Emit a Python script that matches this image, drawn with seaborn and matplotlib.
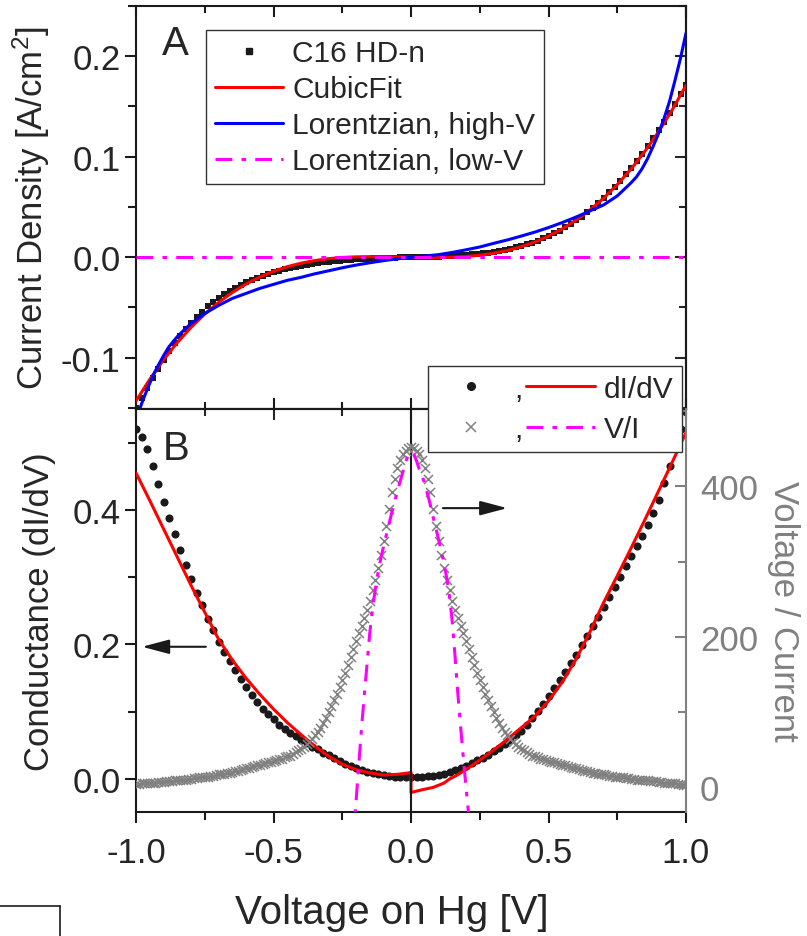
import numpy as np
import matplotlib
matplotlib.use("Agg")
import matplotlib.pyplot as plt
import seaborn as sns
from matplotlib.lines import Line2D
from matplotlib.ticker import MultipleLocator

# ---------------- data ----------------
# Panel A: current density of C16 HD-n (V grid: -1 ... 1, step 0.02)
V_data = np.round(np.linspace(-1.0, 1.0, 101), 2)
J_data = [-0.150, -0.140, -0.130, -0.120, -0.111, -0.102, -0.093, -0.085, -0.078, -0.071,
          -0.065, -0.059, -0.054, -0.049, -0.045, -0.041, -0.037, -0.034, -0.031, -0.028,
          -0.025, -0.023, -0.021, -0.019, -0.017, -0.015, -0.0135, -0.012, -0.011, -0.0095,
          -0.0085, -0.0075, -0.0066, -0.0058, -0.0051, -0.0045, -0.0039, -0.0034, -0.0029, -0.0025,
          -0.0021, -0.0017, -0.0014, -0.0011, -0.0009, -0.0007, -0.0005, -0.0004, -0.0002, -0.0001,
          0.0000,
          0.0001, 0.0002, 0.0003, 0.0005, 0.0007, 0.0010, 0.0013, 0.0016, 0.0020, 0.0024,
          0.0029, 0.0034, 0.0040, 0.0047, 0.0055, 0.0064, 0.0074, 0.0085, 0.0098, 0.0112,
          0.0128, 0.0146, 0.0166, 0.0188, 0.0212, 0.0238, 0.0266, 0.0297, 0.0330, 0.0366,
          0.0405, 0.0447, 0.0492, 0.0540, 0.0591, 0.0645, 0.0702, 0.0762, 0.0825, 0.0891,
          0.0960, 0.1032, 0.1107, 0.1185, 0.1266, 0.1350, 0.1437, 0.1527, 0.1620, 0.1716]

# Cubic fit (V step 0.05)
V_fit = np.round(np.linspace(-1.0, 1.0, 41), 2)
J_cubic = [-0.1430, -0.1215, -0.1021, -0.0850, -0.0698, -0.0565, -0.0450, -0.0351, -0.0267, -0.0197,
           -0.0140, -0.0094, -0.0059, -0.0033, -0.0014, -0.0002, 0.0004, 0.0006, 0.0006, 0.0003,
           0.0000,
           -0.0002, -0.0003, 0.0000, 0.0007, 0.0020, 0.0039, 0.0067, 0.0104, 0.0151, 0.0210,
           0.0282, 0.0368, 0.0469, 0.0587, 0.0722, 0.0877, 0.1052, 0.1248, 0.1467, 0.1710]

# Lorentzian, high-V
V_lor_hi = [-1.00, -0.98, -0.96, -0.94, -0.92, -0.90, -0.88, -0.85, -0.82, -0.80,
            -0.75, -0.70, -0.65, -0.60, -0.55, -0.50, -0.45, -0.40, -0.35, -0.30,
            -0.25, -0.20, -0.15, -0.10, -0.05, 0.00, 0.05, 0.10, 0.15, 0.20,
            0.25, 0.30, 0.35, 0.40, 0.45, 0.50, 0.55, 0.60, 0.65, 0.70,
            0.75, 0.80, 0.82, 0.84, 0.86, 0.88, 0.90, 0.92, 0.94, 0.96, 0.98, 1.00]
J_lor_hi = [-0.162, -0.146, -0.132, -0.119, -0.108, -0.098, -0.089, -0.079, -0.071, -0.066,
            -0.056, -0.048, -0.041, -0.036, -0.031, -0.027, -0.023, -0.020, -0.0165, -0.0135,
            -0.0105, -0.0078, -0.0055, -0.0034, -0.0016, 0.0, 0.0012, 0.0026, 0.0048, 0.0074,
            0.0102, 0.0138, 0.0172, 0.0210, 0.0250, 0.0295, 0.0345, 0.0400, 0.0460, 0.0520,
            0.0610, 0.0740, 0.0800, 0.0880, 0.0980, 0.1100, 0.1230, 0.1380, 0.1550, 0.1760, 0.1980, 0.2230]

# Lorentzian, low-V (flat at this scale)
V_lor_lo = [-1.0, -0.5, 0.0, 0.5, 1.0]
J_lor_lo = [0.0, 0.0, 0.0, 0.0, 0.0]

# Panel B: conductance dI/dV points (same V grid as V_data)
G_data = [0.520, 0.509, 0.490, 0.465, 0.439, 0.412, 0.388, 0.364, 0.340, 0.318,
          0.297, 0.277, 0.258, 0.238, 0.221, 0.204, 0.189, 0.175, 0.162, 0.149,
          0.137, 0.125, 0.114, 0.104, 0.096, 0.089, 0.081, 0.075, 0.069, 0.064,
          0.058, 0.053, 0.048, 0.044, 0.039, 0.035, 0.031, 0.027, 0.023, 0.019,
          0.016, 0.013, 0.011, 0.009, 0.007, 0.0055, 0.0045, 0.0035, 0.003, 0.003,
          0.003,
          0.003, 0.0035, 0.004, 0.005, 0.0065, 0.008, 0.010, 0.013, 0.016, 0.020,
          0.024, 0.028, 0.032, 0.036, 0.041, 0.046, 0.052, 0.058, 0.065, 0.072,
          0.080, 0.091, 0.101, 0.112, 0.123, 0.135, 0.147, 0.159, 0.172, 0.185,
          0.199, 0.213, 0.227, 0.241, 0.256, 0.271, 0.286, 0.301, 0.316, 0.331,
          0.346, 0.361, 0.377, 0.395, 0.414, 0.440, 0.466, 0.494, 0.520, 0.545]

# dI/dV of the fit (two branches, jump at V = 0)
V_dIdV = [-1.00, -0.95, -0.90, -0.85, -0.80, -0.75, -0.70, -0.65, -0.60, -0.55,
          -0.50, -0.45, -0.40, -0.35, -0.30, -0.25, -0.20, -0.15, -0.10, -0.05,
          -0.01, 0.00, 0.00, 0.04, 0.08, 0.12, 0.14, 0.16, 0.20, 0.25,
          0.30, 0.35, 0.40, 0.45, 0.50, 0.55, 0.60, 0.65, 0.70, 0.75,
          0.80, 0.85, 0.90, 0.95, 1.00]
G_dIdV = [0.455, 0.414, 0.372, 0.330, 0.288, 0.248, 0.208, 0.177, 0.150, 0.126,
          0.104, 0.084, 0.066, 0.049, 0.034, 0.022, 0.014, 0.009, 0.006, 0.007,
          0.009, 0.010, -0.020, -0.016, -0.0125, -0.006, 0.000, 0.004, 0.014, 0.028,
          0.043, 0.059, 0.076, 0.093, 0.116, 0.144, 0.178, 0.218, 0.262, 0.302,
          0.343, 0.385, 0.428, 0.471, 0.515]

# Voltage / Current points (V grid: -1 ... 1, step 0.01)
V_vi = np.round(np.linspace(-1.0, 1.0, 201), 2)
R_vi = [4, 4, 5, 5, 5, 6, 6, 6, 7, 7,
        7, 8, 8, 8, 9, 9, 9, 10, 10, 11,
        11, 12, 12, 13, 13, 14, 14, 15, 15, 16,
        17, 17, 18, 19, 19, 20, 21, 22, 23, 24,
        25, 26, 27, 28, 29, 30, 31, 32, 33, 34,
        35, 36, 37, 38, 40, 41, 42, 44, 47, 49,
        51, 54, 57, 60, 64, 69, 74, 79, 85, 92,
        100, 108, 116, 124, 133, 142, 152, 163, 173, 184,
        195, 205, 215, 225, 236, 248, 262, 276, 292, 309,
        327, 347, 370, 392, 410, 424, 435, 443, 447, 451,
        452,
        451, 447, 443, 435, 424, 410, 392, 370, 347, 327,
        309, 292, 276, 262, 248, 236, 225, 215, 205, 195,
        184, 173, 163, 152, 142, 133, 124, 116, 108, 100,
        92, 85, 79, 74, 69, 64, 60, 57, 54, 51,
        49, 47, 44, 42, 41, 40, 38, 37, 36, 35,
        34, 33, 32, 31, 30, 29, 28, 27, 26, 25,
        24, 23, 22, 21, 20, 19, 19, 18, 17, 17,
        16, 15, 15, 14, 14, 13, 13, 12, 12, 11,
        11, 10, 10, 9, 9, 9, 8, 8, 8, 7,
        7, 6, 6, 5, 5, 5, 4, 4, 3, 3]

# V/I of the low-V fit
V_vi_fit = np.round(np.linspace(-0.21, 0.21, 43), 2)
R_vi_fit = [-70, -20, 30, 78, 122, 163, 205, 237, 263, 285,
            304, 320, 335, 350, 365, 379, 393, 406, 419, 432, 442,
            446,
            443, 434, 423, 414, 404, 390, 376, 360, 345, 330,
            314, 298, 278, 254, 220, 175, 126, 82, 40, 0, -38]

x_ticks = [-1.0, -0.5, 0.0, 0.5, 1.0]
x_ticklabels = ["-1.0", "-0.5", "0.0", "0.5", "1.0"]

# ---------------- style ----------------
sns.set_theme(style="ticks")
plt.rcParams["font.family"] = ["Liberation Sans", "DejaVu Sans"]
plt.rcParams["mathtext.fontset"] = "custom"
plt.rcParams["mathtext.rm"] = "Liberation Sans"
plt.rcParams["mathtext.default"] = "regular"
plt.rcParams["axes.linewidth"] = 1.5

RED, BLUE, MAG, GREY = "#ff0000", "#0000ff", "#ff00ff", "#808080"
DASHDOT = (0, (5.5, 3, 1.5, 3))
TFS = 25

W, H = 807, 937
def rect(l, t, r, b):
    return [l / W, 1 - b / H, (r - l) / W, (b - t) / H]

fig = plt.figure(figsize=(W / 100, H / 100), dpi=100)
axA = fig.add_axes(rect(136, 7, 686, 410))
axB = fig.add_axes(rect(136, 410, 686, 813))
axR = axB.twinx()
axA.set_zorder(1)
axB.set_zorder(2)
axR.set_zorder(3)

# ---------------- panel A ----------------
sns.scatterplot(x=V_data, y=J_data, ax=axA, marker="s", s=20, color="k",
                linewidth=0, legend=False, zorder=2)
sns.lineplot(x=V_fit, y=J_cubic, ax=axA, color=RED, linewidth=2.2,
             estimator=None, sort=False, legend=False, zorder=3)
sns.lineplot(x=V_lor_hi, y=J_lor_hi, ax=axA, color=BLUE, linewidth=2.2,
             estimator=None, sort=False, legend=False, zorder=4)
sns.lineplot(x=V_lor_lo, y=J_lor_lo, ax=axA, color=MAG, linewidth=2.2,
             estimator=None, sort=False, legend=False, zorder=4)
axA.lines[-1].set_linestyle(DASHDOT)

axA.set_xlim(-1, 1)
axA.set_ylim(-0.151, 0.25)
axA.xaxis.set_major_locator(MultipleLocator(0.5))
axA.xaxis.set_minor_locator(MultipleLocator(0.25))
axA.yaxis.set_major_locator(MultipleLocator(0.1))
axA.yaxis.set_minor_locator(MultipleLocator(0.05))
axA.tick_params(axis="x", which="both", direction="in", top=True, bottom=True,
                labelbottom=False, width=1.5, color="k")
axA.tick_params(axis="x", which="major", length=8)
axA.tick_params(axis="x", which="minor", length=5)
axA.tick_params(axis="y", which="both", direction="out", left=True, right=False,
                labelsize=TFS, width=1.5, pad=3, color="k")
axA.tick_params(axis="y", which="major", length=8)
axA.tick_params(axis="y", which="minor", length=6)
axA.set_yticks([-0.1, 0.0, 0.1, 0.2])
axA.set_yticklabels(["-0.1", "0.0", "0.1", "0.2"])
for s in axA.spines.values():
    s.set_linewidth(1.5)
    s.set_color("k")
secA = axA.secondary_yaxis("right")
secA.yaxis.set_major_locator(MultipleLocator(0.1))
secA.yaxis.set_minor_locator(MultipleLocator(0.05))
secA.tick_params(axis="y", which="both", direction="in", labelright=False, width=1.5)
secA.tick_params(axis="y", which="major", length=8)
secA.tick_params(axis="y", which="minor", length=5)
secA.spines["right"].set_linewidth(1.5)
axA.set_ylabel("Current Density [A/cm$^{2}$]", fontsize=25)
axA.yaxis.set_label_coords(-0.153, 0.5)
axA.set_xlabel("")
axA.text(0.047, 0.881, "A", transform=axA.transAxes, fontsize=29,
         ha="left", va="baseline")

hA = [Line2D([], [], marker="s", color="k", ls="none", markersize=4),
      Line2D([], [], color=RED, lw=2.2),
      Line2D([], [], color=BLUE, lw=2.2),
      Line2D([], [], color=MAG, lw=2.2, ls=DASHDOT)]
legA = axA.legend(hA, ["C16 HD-n", "CubicFit", "Lorentzian, high-V", "Lorentzian, low-V"],
                  loc="upper left", bbox_to_anchor=(0.127, 0.940), borderaxespad=0,
                  fontsize=21.5, frameon=True, fancybox=False, edgecolor="#333333",
                  framealpha=1, handlelength=2.3, handletextpad=0.3, borderpad=0.3,
                  labelspacing=0.27)
legA.get_frame().set_linewidth(1.0)

# ---------------- panel B ----------------
sns.scatterplot(x=V_data, y=G_data, ax=axB, marker="o", s=34, color="k",
                linewidth=0, legend=False, zorder=2)
sns.lineplot(x=V_dIdV, y=G_dIdV, ax=axB, color=RED, linewidth=2.2,
             estimator=None, sort=False, legend=False, zorder=3)
axB.axvline(0.0, color="k", lw=1.5, zorder=4)

axB.set_xlim(-1, 1)
axB.set_ylim(-0.049, 0.55)
axB.set_xticks(x_ticks)
axB.set_xticklabels(x_ticklabels)
axB.xaxis.set_minor_locator(MultipleLocator(0.25))
axB.yaxis.set_major_locator(MultipleLocator(0.2))
axB.yaxis.set_minor_locator(MultipleLocator(0.1))
axB.set_yticks([0.0, 0.2, 0.4])
axB.set_yticklabels(["0.0", "0.2", "0.4"])
axB.tick_params(axis="both", which="both", direction="out", labelsize=TFS,
                width=1.5, color="k")
axB.tick_params(axis="x", which="both", top=False, pad=9)
axB.tick_params(axis="y", which="both", right=False, pad=3)
axB.tick_params(axis="both", which="major", length=8)
axB.tick_params(axis="both", which="minor", length=6)
axB.spines["right"].set_visible(False)
for k in ["left", "bottom", "top"]:
    axB.spines[k].set_linewidth(1.5)
    axB.spines[k].set_color("k")
secB = axB.secondary_xaxis("top")
secB.xaxis.set_major_locator(MultipleLocator(0.5))
secB.xaxis.set_minor_locator(MultipleLocator(0.25))
secB.tick_params(axis="x", which="both", direction="in", labeltop=False, width=1.5)
secB.tick_params(axis="x", which="major", length=8)
secB.tick_params(axis="x", which="minor", length=5)
secB.spines["top"].set_linewidth(1.5)
axB.set_ylabel("Conductance (dI/dV)", fontsize=25)
axB.yaxis.set_label_coords(-0.145, 0.5)
axB.set_xlabel("Voltage on Hg [V]", fontsize=29)
axB.xaxis.set_label_coords(0.466, -0.202)
axB.text(0.048, 0.876, "B", transform=axB.transAxes, fontsize=29,
         ha="left", va="baseline", zorder=6)

# arrows pointing to the relevant axis
axB.annotate("", xy=(0.011, 0.41), xytext=(0.127, 0.41), xycoords="axes fraction",
             arrowprops=dict(arrowstyle="-|>,head_length=0.83,head_width=0.22",
                             color="k", lw=1.5, mutation_scale=20, shrinkA=0, shrinkB=0))
axB.annotate("", xy=(0.675, 0.754), xytext=(0.558, 0.754), xycoords="axes fraction",
             arrowprops=dict(arrowstyle="-|>,head_length=0.83,head_width=0.22",
                             color="k", lw=1.5, mutation_scale=20, shrinkA=0, shrinkB=0))

# right axis: Voltage / Current
sns.scatterplot(x=V_vi, y=R_vi, ax=axR, marker="x", s=42, color=GREY,
                linewidth=1.1, legend=False, zorder=2)
sns.lineplot(x=V_vi_fit, y=R_vi_fit, ax=axR, color=MAG, linewidth=2.2,
             estimator=None, sort=False, legend=False, zorder=3)
axR.lines[-1].set_linestyle(DASHDOT)
axR.set_ylim(-33, 503)
axR.set_xlim(-1, 1)
axR.yaxis.set_major_locator(MultipleLocator(200))
axR.yaxis.set_minor_locator(MultipleLocator(100))
axR.set_yticks([0, 200, 400])
axR.set_yticklabels(["0", "200", "400"])
axR.tick_params(axis="y", which="both", direction="in", colors=GREY,
                labelsize=TFS, width=1.5, pad=10)
axR.tick_params(axis="y", which="major", length=8)
axR.tick_params(axis="y", which="minor", length=6)
for k in ["left", "top", "bottom"]:
    axR.spines[k].set_visible(False)
axR.spines["right"].set_color(GREY)
axR.spines["right"].set_linewidth(1.5)
axR.set_ylabel("Voltage / Current", fontsize=25, color=GREY, rotation=270,
               labelpad=30)
axR.set_xlabel("")

hB = [Line2D([], [], marker="o", color="k", ls="none", markersize=5.5),
      Line2D([], [], marker="x", color=GREY, ls="none", markersize=7, markeredgewidth=1.1),
      Line2D([], [], color=RED, lw=2.2),
      Line2D([], [], color=MAG, lw=2.2, ls=DASHDOT)]
legB = axR.legend(hB, [",", ",", "dI/dV", "V/I"], ncol=2, loc="upper left",
                  bbox_to_anchor=(0.531, 1.107), borderaxespad=0, fontsize=21.5,
                  frameon=True, fancybox=False, edgecolor="#333333", framealpha=1,
                  handlelength=2.3, handletextpad=0.3, borderpad=0.3,
                  labelspacing=0.42, columnspacing=0.1)
legB.get_frame().set_linewidth(1.0)
legB.set_zorder(10)

# stray frame corner at lower left of the original image
fig.add_artist(Line2D([0, 60 / W], [1 - 907 / H, 1 - 907 / H], color="k", lw=1.2,
                      transform=fig.transFigure))
fig.add_artist(Line2D([60 / W, 60 / W], [1 - 907 / H, 0], color="k", lw=1.2,
                      transform=fig.transFigure))

fig.savefig("out.png", dpi=100)
